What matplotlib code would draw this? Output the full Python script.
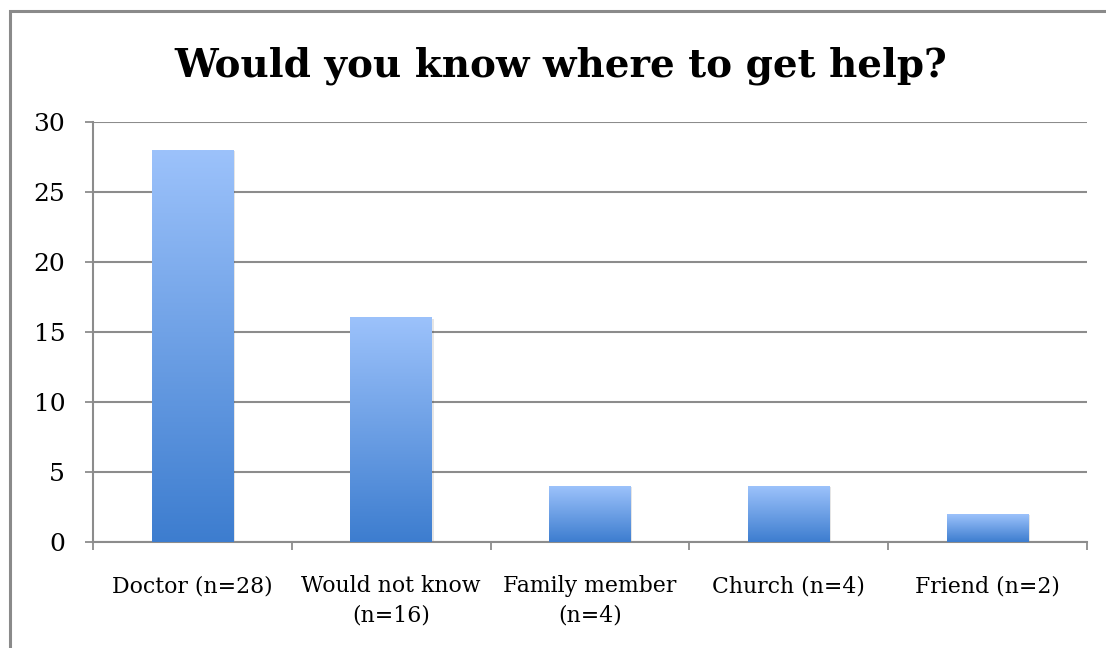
import numpy as np
import matplotlib

matplotlib.use("Agg")
import matplotlib.pyplot as plt
from matplotlib.patches import Rectangle

# data
categories = ["Doctor (n=28)", "Would not know\n(n=16)", "Family member\n(n=4)",
              "Church (n=4)", "Friend (n=2)"]
counts = [28, 16, 4, 4, 2]
yticks = [0, 5, 10, 15, 20, 25, 30]

TOP_BLUE = "#9cc2fb"
BOTTOM_BLUE = "#3d7dcf"
GRID = "#8c8c8c"
FRAME = "#8a8a8a"

plt.rcParams["font.family"] = ["DejaVu Serif"]

fig = plt.figure(figsize=(11.06, 6.48), dpi=100)
ax = fig.add_axes([93 / 1106, 1 - 542 / 648, (1087 - 93) / 1106, (542 - 122) / 648])

# outer chart frame (right and bottom run off the image)
fig.patches.append(Rectangle((10 / 1106, -0.1), 1.2, 1 - 11 / 648 + 0.1,
                             transform=fig.transFigure, fill=False,
                             edgecolor=FRAME, lw=2.2, zorder=0))

x = np.arange(len(categories))
bars = ax.bar(x, counts, width=0.41, color="none", edgecolor="none", zorder=3)

# vertical gradient per bar, light at top, dark at bottom
cmap = matplotlib.colors.LinearSegmentedColormap.from_list("bar", [BOTTOM_BLUE, TOP_BLUE])
grad = np.linspace(0, 1, 256).reshape(-1, 1)
for b in bars:
    x0, w, h = b.get_x(), b.get_width(), b.get_height()
    # soft shadow
    ax.add_patch(Rectangle((x0 + 0.008, 0), w, h - 0.06, color="#000000",
                           alpha=0.10, lw=0, zorder=2))
    ax.imshow(grad, extent=(x0, x0 + w, 0, h), origin="lower", cmap=cmap,
              aspect="auto", zorder=3)

ax.set_xlim(-0.5, len(categories) - 0.5)
ax.set_ylim(0, 30)
ax.set_yticks(yticks)
ax.set_xticks(x)
ax.set_xticklabels(categories, fontsize=15.8, linespacing=1.45)
ax.set_xticks(np.arange(len(categories) + 1) - 0.5, minor=True)
ax.tick_params(axis="x", which="major", length=0, pad=24)
ax.tick_params(axis="x", which="minor", length=6, width=1.3, color=GRID)
ax.tick_params(axis="y", length=6, width=1.3, color=GRID, labelsize=18, pad=14)

ax.grid(axis="y", color=GRID, lw=1.5, zorder=1)
ax.set_axisbelow(True)
for s in ("top", "right"):
    ax.spines[s].set_visible(False)
for s in ("left", "bottom"):
    ax.spines[s].set_color(GRID)
    ax.spines[s].set_linewidth(1.5)

fig.text(0.507, 1 - 66 / 648, "Would you know where to get help?",
         fontsize=28, fontweight="bold", ha="center", va="center")

fig.savefig("out.png", dpi=100)
